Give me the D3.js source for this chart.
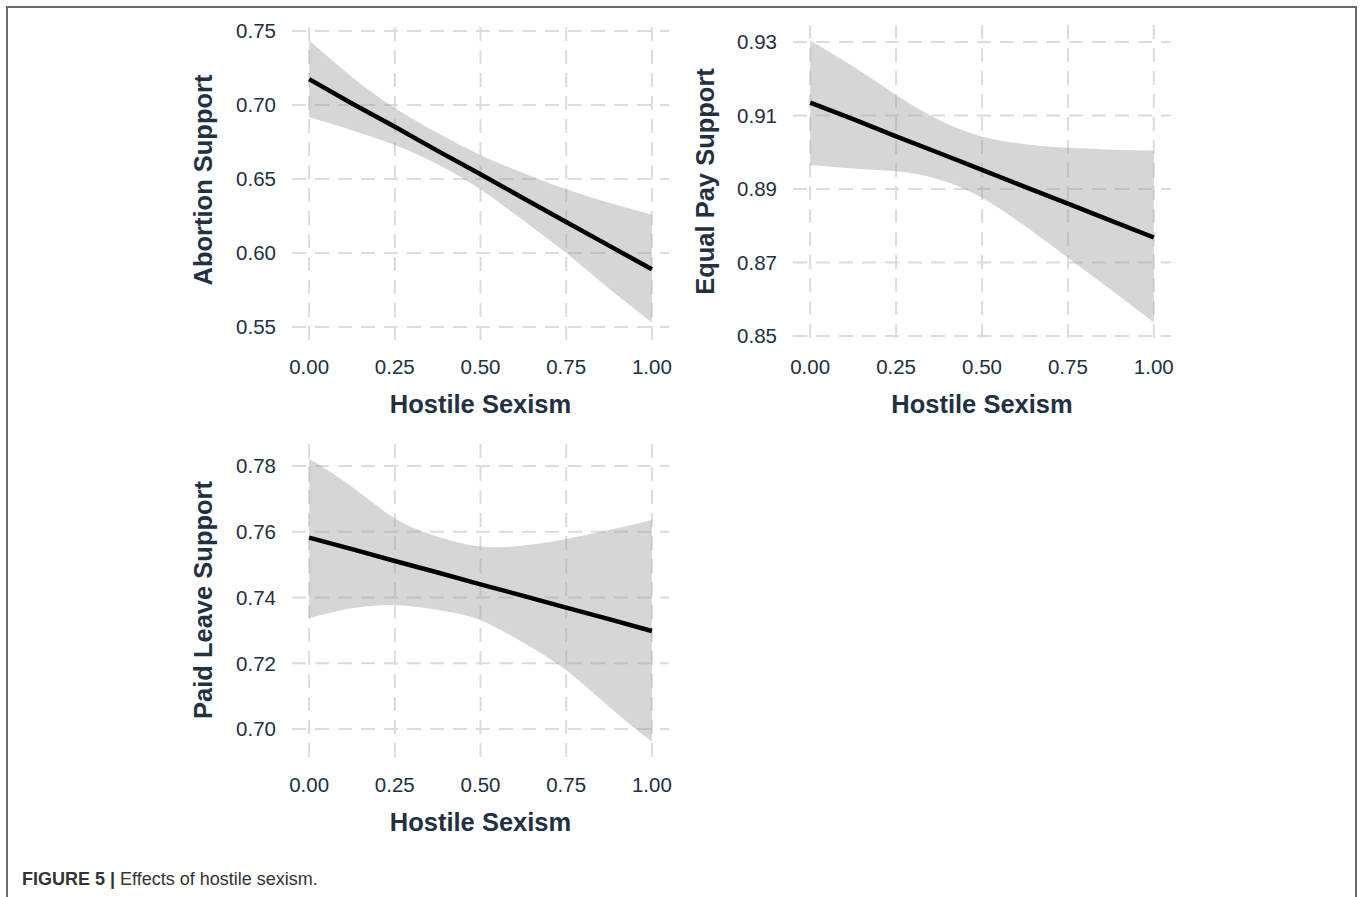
<!DOCTYPE html>
<html>
<head>
<meta charset="utf-8">
<script src="https://cdn.jsdelivr.net/npm/d3@7"></script>
<style>
  body { margin: 0; background: #fff; }
  svg { display: block; font-family: "Liberation Sans", Arial, sans-serif; }
</style>
</head>
<body>
<div class="wrapper"></div>
<script>
var width = 1363,
    height = 897;

// shared x values (hostile sexism)
var xValues = [0, 0.125, 0.25, 0.375, 0.5, 0.625, 0.75, 0.875, 1];
var xTicks = [0, 0.25, 0.5, 0.75, 1];

// Abortion support
var abortionFit   = [0.7175, 0.701, 0.6853, 0.669, 0.6532, 0.637, 0.621, 0.605, 0.589];
var abortionUpper = [0.7435, 0.719, 0.698, 0.681, 0.666, 0.654, 0.643, 0.634, 0.626];
var abortionLower = [0.6917, 0.683, 0.673, 0.660, 0.643, 0.622, 0.600, 0.576, 0.553];
var abortionTicks = [0.55, 0.60, 0.65, 0.70, 0.75];

// Equal pay support
var equalPayFit   = [0.9135, 0.909, 0.9043, 0.8998, 0.8952, 0.8906, 0.886, 0.8814, 0.8768];
var equalPayUpper = [0.9304, 0.9233, 0.9156, 0.9088, 0.9043, 0.9022, 0.9012, 0.9007, 0.9005];
var equalPayLower = [0.8965, 0.8956, 0.8948, 0.8926, 0.8876, 0.8799, 0.8713, 0.8626, 0.8537];
var equalPayTicks = [0.85, 0.87, 0.89, 0.91, 0.93];

// Paid leave support
var paidLeaveFit   = [0.7582, 0.7547, 0.7511, 0.7476, 0.744, 0.7405, 0.7369, 0.7334, 0.7298];
var paidLeaveUpper = [0.7823, 0.7737, 0.7641, 0.7585, 0.7555, 0.7558, 0.7578, 0.7605, 0.7636];
var paidLeaveLower = [0.7337, 0.7367, 0.7377, 0.7362, 0.7331, 0.7262, 0.7179, 0.7068, 0.6961];
var paidLeaveTicks = [0.70, 0.72, 0.74, 0.76, 0.78];

var panels = [
  { title: "Abortion Support", fit: abortionFit, upper: abortionUpper, lower: abortionLower,
    ticks: abortionTicks,
    box: { left: 292, right: 669, top: 20, bottom: 340 }, yMap: [327, 31],
    yTitleX: 203, xLabelY: 374, xTitleY: 413 },
  { title: "Equal Pay Support", fit: equalPayFit, upper: equalPayUpper, lower: equalPayLower,
    ticks: equalPayTicks,
    box: { left: 793, right: 1171, top: 25, bottom: 338 }, yMap: [336, 42],
    yTitleX: 705, xLabelY: 374, xTitleY: 413 },
  { title: "Paid Leave Support", fit: paidLeaveFit, upper: paidLeaveUpper, lower: paidLeaveLower,
    ticks: paidLeaveTicks,
    box: { left: 292, right: 669, top: 443, bottom: 757 }, yMap: [729, 466],
    yTitleX: 203, xLabelY: 792, xTitleY: 831 }
];

var svg = d3.select(".wrapper").append("svg")
    .attr("width", width)
    .attr("height", height);

// page frame
svg.append("path")
    .attr("d", "M7,897 L7,7 L1356,7 L1356,897")
    .attr("fill", "none")
    .attr("stroke", "#6b6b6b")
    .attr("stroke-width", 2);

var textColor = "#223044";

panels.forEach(function(p) {
  var b = p.box;
  var w = b.right - b.left;
  var x = d3.scaleLinear().domain([0, 1]).range([b.left + w * 0.05 / 1.1, b.right - w * 0.05 / 1.1]);
  var y = d3.scaleLinear().domain([p.ticks[0], p.ticks[p.ticks.length - 1]]).range(p.yMap);

  var g = svg.append("g");

  // grid
  g.selectAll(".hgrid").data(p.ticks).enter().append("line")
      .attr("x1", b.left).attr("x2", b.right)
      .attr("y1", function(d) { return y(d); }).attr("y2", function(d) { return y(d); })
      .attr("stroke", "#dcdcdc").attr("stroke-width", 2)
      .attr("stroke-dasharray", "14,9");
  g.selectAll(".vgrid").data(xTicks).enter().append("line")
      .attr("y1", b.bottom).attr("y2", b.top)
      .attr("x1", function(d) { return x(d); }).attr("x2", function(d) { return x(d); })
      .attr("stroke", "#dcdcdc").attr("stroke-width", 2)
      .attr("stroke-dasharray", "14,9");

  // ribbon
  var band = d3.area()
      .x(function(d, i) { return x(xValues[i]); })
      .y0(function(d, i) { return y(p.lower[i]); })
      .y1(function(d, i) { return y(p.upper[i]); })
      .curve(d3.curveNatural);
  g.append("path").datum(p.fit)
      .attr("d", band)
      .attr("fill", "#999999")
      .attr("fill-opacity", 0.4);

  // fit line
  var line = d3.line()
      .x(function(d, i) { return x(xValues[i]); })
      .y(function(d) { return y(d); });
  g.append("path").datum(p.fit)
      .attr("d", line)
      .attr("fill", "none")
      .attr("stroke", "#000")
      .attr("stroke-width", 4.5);

  // y tick labels
  g.selectAll(".ylab").data(p.ticks).enter().append("text")
      .attr("x", b.left - 16)
      .attr("y", function(d) { return y(d); })
      .attr("dy", "0.36em")
      .attr("text-anchor", "end")
      .attr("font-size", 20.5)
      .attr("fill", textColor)
      .text(function(d) { return d3.format(".2f")(d); });

  // x tick labels
  g.selectAll(".xlab").data(xTicks).enter().append("text")
      .attr("x", function(d) { return x(d); })
      .attr("y", p.xLabelY)
      .attr("text-anchor", "middle")
      .attr("font-size", 20.5)
      .attr("fill", textColor)
      .text(function(d) { return d3.format(".2f")(d); });

  // axis titles
  g.append("text")
      .attr("x", (b.left + b.right) / 2)
      .attr("y", p.xTitleY)
      .attr("text-anchor", "middle")
      .attr("font-size", 25.5)
      .attr("font-weight", "bold")
      .attr("fill", textColor)
      .text("Hostile Sexism");

  g.append("text")
      .attr("transform", "translate(" + p.yTitleX + "," + ((b.top + b.bottom) / 2) + ") rotate(-90)")
      .attr("dy", "0.36em")
      .attr("text-anchor", "middle")
      .attr("font-size", 25.5)
      .attr("font-weight", "bold")
      .attr("fill", textColor)
      .text(p.title);
});

// caption
var cap = svg.append("text")
    .attr("x", 22)
    .attr("y", 885)
    .attr("font-size", 18)
    .attr("fill", "#333");
cap.append("tspan").attr("font-weight", "bold").text("FIGURE 5 | ");
cap.append("tspan").text("Effects of hostile sexism.");
</script>
</body>
</html>
